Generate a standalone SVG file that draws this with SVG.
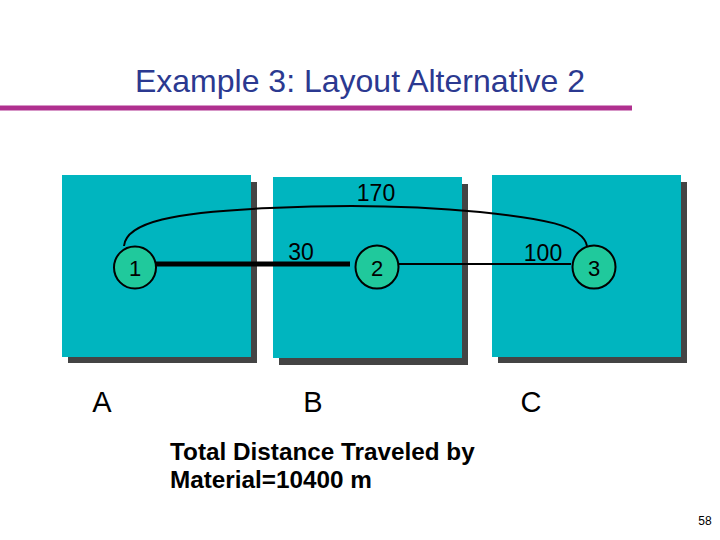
<svg xmlns="http://www.w3.org/2000/svg" width="720" height="540" viewBox="0 0 720 540">
<style>
.shadow{fill:#444444}
.dept{fill:#00B5BF}
.node{fill:#20C99C;stroke:#000;stroke-width:2}
.lbl{font-family:"Liberation Sans",Arial,sans-serif;fill:#000}
.num{font-size:22px;text-anchor:middle}
.dist{font-size:23px;text-anchor:middle}
.area{font-size:29px;text-anchor:middle}
</style>
<rect width="720" height="540" fill="#ffffff"/>
<text x="360" y="92" font-family="'Liberation Sans',Arial,sans-serif" font-size="32" fill="#2B3990" text-anchor="middle">Example 3: Layout Alternative 2</text>
<rect x="0" y="105.5" width="632" height="5" fill="#B0308F"/>
<g id="dept-A">
<rect class="shadow" x="68" y="182" width="189" height="181"/>
<rect class="dept" x="62" y="175" width="189" height="182"/>
<text class="lbl area" x="102" y="412">A</text>
</g>
<g id="dept-B">
<rect class="shadow" x="279" y="184" width="189" height="181"/>
<rect class="dept" x="273" y="177" width="189" height="181"/>
<text class="lbl area" x="313" y="412">B</text>
</g>
<g id="dept-C">
<rect class="shadow" x="498" y="182" width="189" height="181"/>
<rect class="dept" x="492" y="175" width="189" height="182"/>
<text class="lbl area" x="531" y="412">C</text>
</g>
<g id="connectors" fill="none" stroke="#000">
<line x1="156" y1="264" x2="350" y2="264" stroke-width="5"/>
<line x1="399" y1="264" x2="571" y2="264" stroke-width="2"/>
<path d="M124,246 C126,222 175,212 270,208 C330,205 400,204 480,212 C540,218 583,225 587,246" stroke-width="2"/>
<text class="lbl dist" x="376" y="201" stroke="none">170</text>
<text class="lbl dist" x="301" y="260" stroke="none">30</text>
<text class="lbl dist" x="543" y="261" stroke="none">100</text>
</g>
<g id="node-1">
<circle class="node" cx="135" cy="267.5" r="21"/>
<text class="lbl num" x="135" y="275.5">1</text>
</g>
<g id="node-2">
<circle class="node" cx="377" cy="267" r="21.5"/>
<text class="lbl num" x="377" y="275.5">2</text>
</g>
<g id="node-3">
<circle class="node" cx="594" cy="267" r="21.5"/>
<text class="lbl num" x="594" y="275.5">3</text>
</g>
<g id="summary">
<text class="lbl" x="170" y="460" font-size="24.3" font-weight="bold">Total Distance Traveled by</text>
<text class="lbl" x="170" y="488" font-size="24.3" font-weight="bold">Material=10400 m</text>
</g>
<text class="lbl" x="705" y="525" font-size="12" text-anchor="middle">58</text>
</svg>
